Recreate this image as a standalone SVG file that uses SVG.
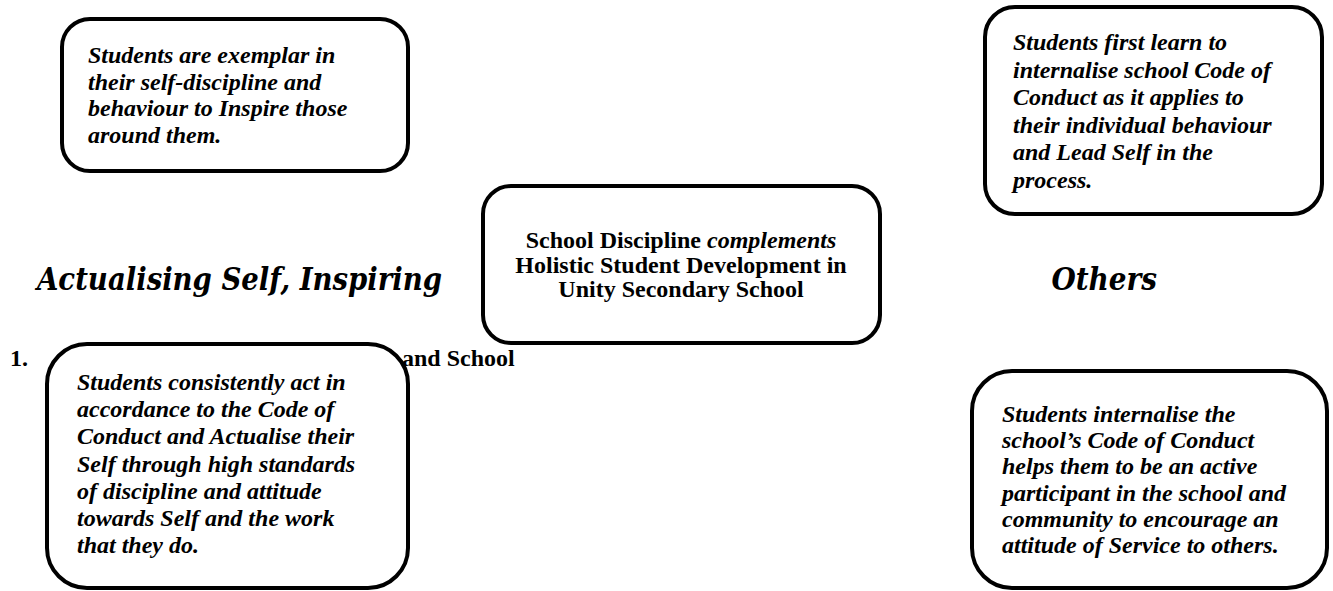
<svg xmlns="http://www.w3.org/2000/svg" width="1333" height="591" viewBox="0 0 1333 591">
<style>
.box{fill:#fff;stroke:#000;stroke-width:4}
.t{font-family:"Liberation Serif","Times New Roman",serif;font-size:24px;font-weight:bold;font-style:italic;fill:#000}
.c{font-family:"Liberation Serif","Times New Roman",serif;font-size:24px;font-weight:bold;fill:#000}
.title{font-family:"DejaVu Serif Condensed","DejaVu Serif",serif;font-stretch:condensed;font-size:31px;font-weight:bold;font-style:italic;fill:#000}
</style>
<rect width="1333" height="591" fill="#fff"/>
<g id="heading">
<text class="title" x="37" y="290" textLength="405" lengthAdjust="spacingAndGlyphs">Actualising Self, Inspiring</text>
<text class="title" x="1157" y="290" text-anchor="end">Others</text>
<text class="c" x="10" y="366">1.</text>
<text class="c" x="402" y="366">and School</text>
</g>
<g id="connectors"></g>
<g id="node-inspire">
<rect class="box" x="62" y="19" width="346" height="152" rx="28"/>
<text class="t" x="88" y="63">Students are exemplar in</text>
<text class="t" x="88" y="89.7">their self-discipline and</text>
<text class="t" x="88" y="116.4">behaviour to Inspire those</text>
<text class="t" x="88" y="143">around them.</text>
</g>
<g id="node-lead">
<rect class="box" x="985" y="7" width="337" height="207" rx="30"/>
<text class="t" x="1013" y="50">Students first learn to</text>
<text class="t" x="1013" y="77.5">internalise school Code of</text>
<text class="t" x="1013" y="105">Conduct as it applies to</text>
<text class="t" x="1013" y="132.5">their individual behaviour</text>
<text class="t" x="1013" y="160">and Lead Self in the</text>
<text class="t" x="1013" y="187.5">process.</text>
</g>
<g id="node-center">
<rect class="box" x="483" y="186" width="397" height="157" rx="28"/>
<text class="c" x="681" y="248" text-anchor="middle">School Discipline <tspan font-style="italic">complements</tspan></text>
<text class="c" x="681" y="272.5" text-anchor="middle">Holistic Student Development in</text>
<text class="c" x="681" y="297" text-anchor="middle">Unity Secondary School</text>
</g>
<g id="node-actualise">
<rect class="box" x="47" y="344" width="361" height="244" rx="40"/>
<text class="t" x="77" y="390">Students consistently act in</text>
<text class="t" x="77" y="417.2">accordance to the Code of</text>
<text class="t" x="77" y="444.4">Conduct and Actualise their</text>
<text class="t" x="77" y="471.6">Self through high standards</text>
<text class="t" x="77" y="498.8">of discipline and attitude</text>
<text class="t" x="77" y="526">towards Self and the work</text>
<text class="t" x="77" y="553">that they do.</text>
</g>
<g id="node-service">
<rect class="box" x="972" y="371" width="355" height="217" rx="40"/>
<text class="t" x="1002" y="422">Students internalise the</text>
<text class="t" x="1002" y="448.2">school’s Code of Conduct</text>
<text class="t" x="1002" y="474.4">helps them to be an active</text>
<text class="t" x="1002" y="500.6">participant in the school and</text>
<text class="t" x="1002" y="526.8">community to encourage an</text>
<text class="t" x="1002" y="553">attitude of Service to others.</text>
</g>
</svg>
